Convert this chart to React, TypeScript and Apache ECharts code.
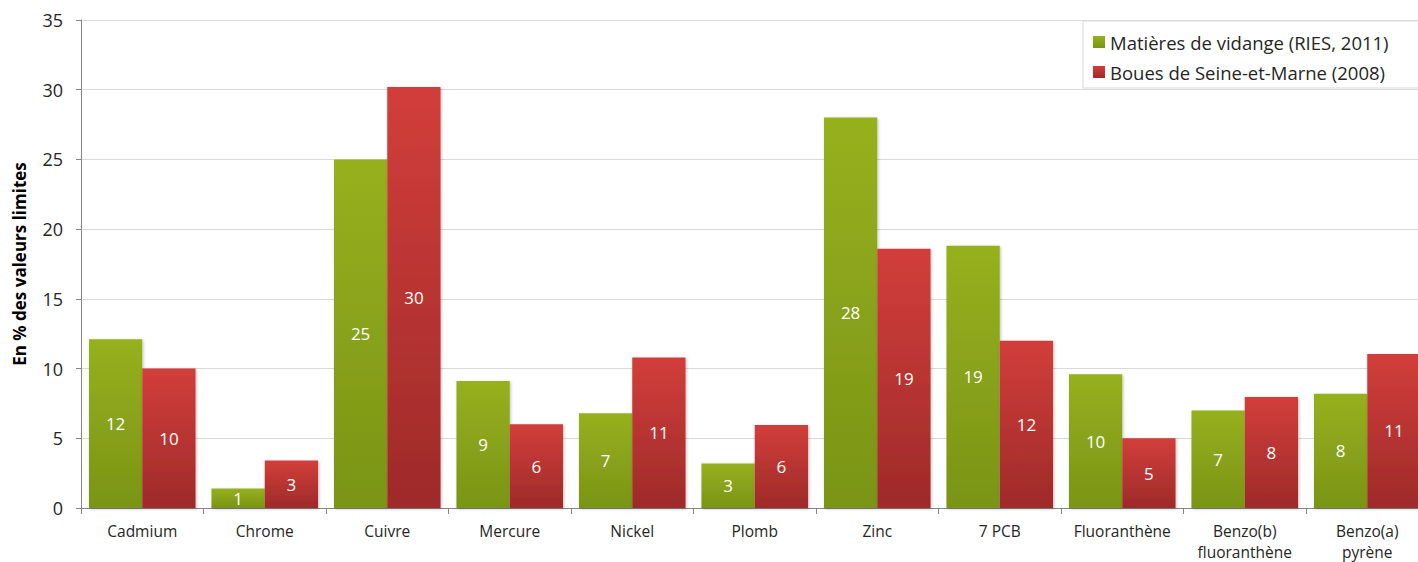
import React, { useEffect, useRef } from "react";
import * as echarts from "echarts";

const categories = [
  "Cadmium",
  "Chrome",
  "Cuivre",
  "Mercure",
  "Nickel",
  "Plomb",
  "Zinc",
  "7 PCB",
  "Fluoranthène",
  "Benzo(b)\nfluoranthène",
  "Benzo(a)\npyrène",
];
const seriesNames = ["Matières de vidange (RIES, 2011)", "Boues de Seine-et-Marne (2008)"];
const vidange = [12.1, 1.4, 25.0, 9.1, 6.8, 3.2, 28.0, 18.8, 9.6, 7.0, 8.2];
const boues = [10.0, 3.4, 30.2, 6.0, 10.8, 5.95, 18.6, 12.0, 5.0, 7.96, 11.05];
const yTicks = { min: 0, max: 35, interval: 5 };
const yName = "En % des valeurs limites";

const FONT = "'Open Sans', 'Liberation Sans', sans-serif";

export default function App() {
  const ref = useRef<HTMLDivElement>(null);
  useEffect(() => {
    if (!ref.current) return;
    const chart = echarts.init(ref.current, undefined, { renderer: "svg" });
    const grad = (top: string, bottom: string) =>
      new echarts.graphic.LinearGradient(0, 0, 0, 1, [
        { offset: 0, color: top },
        { offset: 1, color: bottom },
      ]);
    const label = {
      show: true,
      position: "inside",
      color: "#ffffff",
      fontSize: 17,
      fontFamily: FONT,
      formatter: (p: any) => String(Math.round(p.value)),
    };
    chart.setOption({
      animation: false,
      textStyle: { fontFamily: FONT },
      grid: { left: 81, top: 20, height: 488, width: 1347.5 },
      legend: {
        orient: "vertical",
        top: 21,
        left: 1083,
        itemWidth: 12,
        itemHeight: 12,
        itemGap: 10,
        padding: [11, 60, 6, 10],
        borderColor: "#d9d9d9",
        borderWidth: 1,
        icon: "rect",
        textStyle: { fontSize: 18.5, lineHeight: 20, color: "#262626", fontFamily: FONT },
        data: seriesNames,
      },
      xAxis: {
        type: "category",
        data: categories,
        axisLine: { lineStyle: { color: "#868686" } },
        axisTick: { show: true, length: 6, lineStyle: { color: "#868686" } },
        axisLabel: {
          color: "#262626",
          fontSize: 15.5,
          lineHeight: 21,
          margin: 12,
          interval: 0,
          fontFamily: FONT,
        },
      },
      yAxis: {
        type: "value",
        min: yTicks.min,
        max: yTicks.max,
        interval: yTicks.interval,
        name: yName,
        nameLocation: "middle",
        nameGap: 53,
        nameTextStyle: { fontSize: 17, fontWeight: "bold", color: "#000000", fontFamily: FONT },
        axisLine: { show: true, lineStyle: { color: "#868686" } },
        axisTick: { show: true, length: 5, lineStyle: { color: "#868686" } },
        axisLabel: { color: "#262626", fontSize: 18, margin: 18, fontFamily: FONT },
        splitLine: { lineStyle: { color: "#d9d9d9" } },
      },
      series: [
        {
          name: seriesNames[0],
          type: "bar",
          data: vidange,
          barGap: "0%",
          barCategoryGap: "13%",
          itemStyle: {
            color: grad("#97b01f", "#7a9416"),
            shadowColor: "rgba(0,0,0,0.25)",
            shadowBlur: 3,
            shadowOffsetX: 1,
            shadowOffsetY: 1,
          },
          label,
        },
        {
          name: seriesNames[1],
          type: "bar",
          data: boues,
          barGap: "0%",
          barCategoryGap: "13%",
          itemStyle: {
            color: grad("#d23e3b", "#9e2a29"),
            shadowColor: "rgba(0,0,0,0.25)",
            shadowBlur: 3,
            shadowOffsetX: 1,
            shadowOffsetY: 1,
          },
          label,
        },
      ],
    });
    return () => chart.dispose();
  }, []);
  return (
    <div
      style={{
        position: "absolute",
        left: 0,
        top: 0,
        width: 1418,
        height: 562,
        overflow: "hidden",
        background: "#ffffff",
      }}
    >
      <div ref={ref} style={{ width: 1440, height: 562 }} />
    </div>
  );
}
